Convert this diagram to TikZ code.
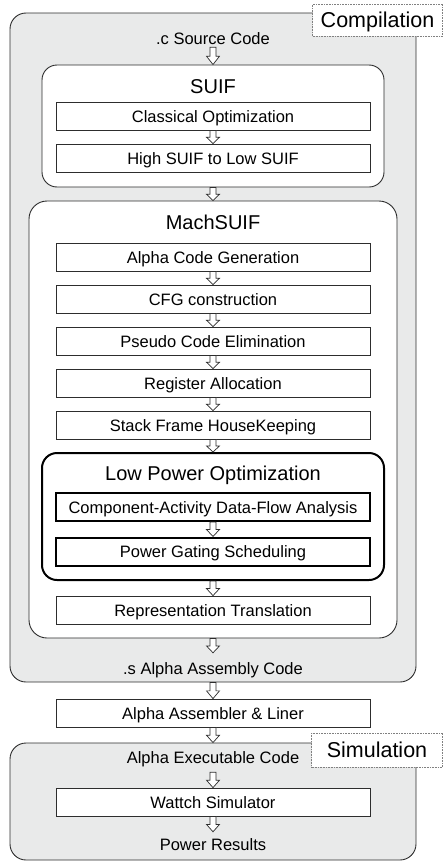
\documentclass[tikz,border=0pt]{standalone}
\usepackage{fontspec}
\setmainfont{Liberation Sans}
\usetikzlibrary{calc}
\definecolor{panelgray}{RGB}{233,234,234}
\definecolor{edgegray}{RGB}{45,45,45}
\tikzset{
  basefont/.style={font=\fontsize{16.5}{19}\selectfont},
  titlefont/.style={font=\fontsize{20}{23}\selectfont},
  container/.style={draw=edgegray, line width=0.9pt, fill=panelgray, rounded corners=16pt, inner sep=0pt},
  subpanel/.style={draw=edgegray, line width=0.9pt, fill=white, rounded corners=15pt, inner sep=0pt},
  thickpanel/.style={draw=black, line width=2pt, fill=white, rounded corners=15pt, inner sep=0pt},
  stepbox/.style={draw=edgegray, line width=0.8pt, fill=white, minimum width=314pt, minimum height=28pt, inner sep=0pt, basefont, text height=12pt, text depth=0pt},
  thickbox/.style={stepbox, draw=black, line width=2pt},
  lbl/.style={inner sep=0pt, basefont, text height=12pt, text depth=0pt},
  ttl/.style={inner sep=0pt, titlefont, text height=14.5pt, text depth=0pt},
  tagbox/.style={draw=gray, densely dotted, line width=0.6pt, fill=white, inner sep=0pt, font=\fontsize{21.5}{24}\selectfont, text height=15.5pt, text depth=0pt},
  arrowstyle/.style={draw=edgegray, line width=0.7pt, fill=white, line join=miter},
}
\newcommand\flowarrow[2]{%
  \path (#1) coordinate (fa-s) (#2) coordinate (fa-e) ($(#1)!0.52!(#2)$) coordinate (fa-m);
  \draw[arrowstyle] ([xshift=-3pt]fa-s) -- ([xshift=-3pt]fa-m) -- ([xshift=-6.5pt]fa-m) -- (fa-e)
    -- ([xshift=6.5pt]fa-m) -- ([xshift=3pt]fa-m) -- ([xshift=3pt]fa-s) -- cycle;}
\begin{document}
\begin{tikzpicture}[x=1pt,y=-1pt]
\useasboundingbox (0,0) rectangle (443,862);

% Compilation panel
\node[container, minimum width=406pt, minimum height=669pt] (comp) at (213,347.5) {};
\node[tagbox, minimum width=130pt, minimum height=32pt] (comptag) at (377.5,20) {Compilation};
\node[lbl, minimum height=18pt] (src) at (213,38) {.c Source Code};

% SUIF
\node[subpanel, minimum width=342pt, minimum height=122pt] (suif) at (213,126) {};
\node[ttl] (suiftitle) at (213,86) {SUIF};
\node[stepbox] (cls) at (213,116) {Classical Optimization};
\node[stepbox] (hs) at (213,158) {High SUIF to Low SUIF};

% MachSUIF
\node[subpanel, rounded corners=18pt, minimum width=368pt, minimum height=437pt] (mach) at (213,419.5) {};
\node[ttl] (machtitle) at (213,222) {MachSUIF};
\node[stepbox] (acg) at (213,257) {Alpha Code Generation};
\node[stepbox] (cfg) at (213,299) {CFG construction};
\node[stepbox] (pce) at (213,341) {Pseudo Code Elimination};
\node[stepbox] (reg) at (213,383) {Register Allocation};
\node[stepbox] (sf) at (213,425) {Stack Frame HouseKeeping};

% Low Power Optimization
\node[thickpanel, minimum width=342pt, minimum height=127pt] (lpo) at (213,516.5) {};
\node[ttl] (lpotitle) at (213,473) {Low Power Optimization};
\node[thickbox] (ca) at (213,507) {Component-Activity Data-Flow Analysis};
\node[thickbox] (pg) at (213,551.5) {Power Gating Scheduling};

\node[stepbox] (rt) at (213,610) {Representation Translation};
\node[lbl, minimum height=30pt] (asm) at (213,668) {.s Alpha Assembly Code};

% Assembler
\node[stepbox] (aal) at (213,713) {Alpha Assembler \& Liner};

% Simulation panel
\node[container, minimum width=406pt, minimum height=117pt] (sim) at (213,801.5) {};
\node[tagbox, minimum width=131pt, minimum height=34pt] (simtag) at (377,750) {Simulation};
\node[lbl, minimum height=30pt] (exe) at (213,757) {Alpha Executable Code};
\node[stepbox] (ws) at (213,802) {Wattch Simulator};
\node[lbl, minimum height=24pt] (res) at (213,844) {Power Results};

% Arrows
\flowarrow{src.south}{suif.north}
\flowarrow{cls.south}{hs.north}
\flowarrow{suif.south}{mach.north}
\flowarrow{acg.south}{cfg.north}
\flowarrow{cfg.south}{pce.north}
\flowarrow{pce.south}{reg.north}
\flowarrow{reg.south}{sf.north}
\flowarrow{sf.south}{lpo.north}
\flowarrow{ca.south}{pg.north}
\flowarrow{lpo.south}{rt.north}
\flowarrow{mach.south}{asm.north}
\flowarrow{comp.south}{aal.north}
\flowarrow{aal.south}{sim.north}
\flowarrow{exe.south}{ws.north}
\flowarrow{ws.south}{res.north}
\end{tikzpicture}
\end{document}
